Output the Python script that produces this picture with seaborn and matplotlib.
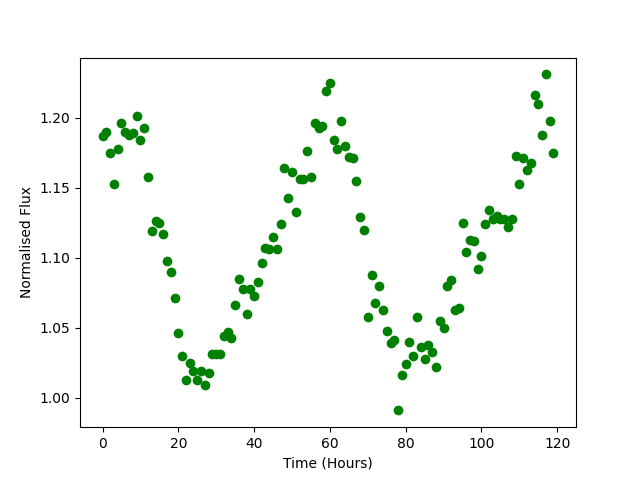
import numpy as np
import seaborn as sns
import matplotlib
matplotlib.use("Agg")
import matplotlib.pyplot as plt

# hourly samples, 0..119
time_hours = np.arange(120)

flux = [
    1.187, 1.190, 1.175, 1.153, 1.178, 1.196, 1.190, 1.188, 1.189, 1.201,
    1.184, 1.193, 1.158, 1.119, 1.126, 1.125, 1.117, 1.098, 1.090, 1.071,
    1.046, 1.030, 1.013, 1.025, 1.019, 1.013, 1.019, 1.009, 1.018, 1.031,
    1.031, 1.031, 1.044, 1.047, 1.043, 1.066, 1.085, 1.078, 1.060, 1.078,
    1.073, 1.083, 1.096, 1.107, 1.106, 1.115, 1.106, 1.124, 1.164, 1.143,
    1.161, 1.133, 1.156, 1.156, 1.176, 1.158, 1.196, 1.193, 1.194, 1.219,
    1.225, 1.184, 1.178, 1.198, 1.180, 1.172, 1.171, 1.155, 1.129, 1.120,
    1.058, 1.088, 1.068, 1.080, 1.063, 1.048, 1.039, 1.041, 0.991, 1.016,
    1.024, 1.040, 1.030, 1.058, 1.036, 1.028, 1.038, 1.033, 1.022, 1.055,
    1.050, 1.080, 1.084, 1.063, 1.064, 1.125, 1.104, 1.113, 1.112, 1.092,
    1.101, 1.124, 1.134, 1.128, 1.130, 1.128, 1.128, 1.122, 1.128, 1.173,
    1.153, 1.171, 1.163, 1.168, 1.216, 1.210, 1.188, 1.231, 1.198, 1.175,
]

fig, ax = plt.subplots(figsize=(6.4, 4.8), dpi=100)
sns.scatterplot(x=time_hours, y=flux, color="green", s=49, linewidth=0, ax=ax)
ax.set_xlabel("Time (Hours)")
ax.set_ylabel("Normalised Flux")
ax.set_xticks([0, 20, 40, 60, 80, 100, 120])
ax.set_yticks([1.00, 1.05, 1.10, 1.15, 1.20])

plt.savefig("out.png")
